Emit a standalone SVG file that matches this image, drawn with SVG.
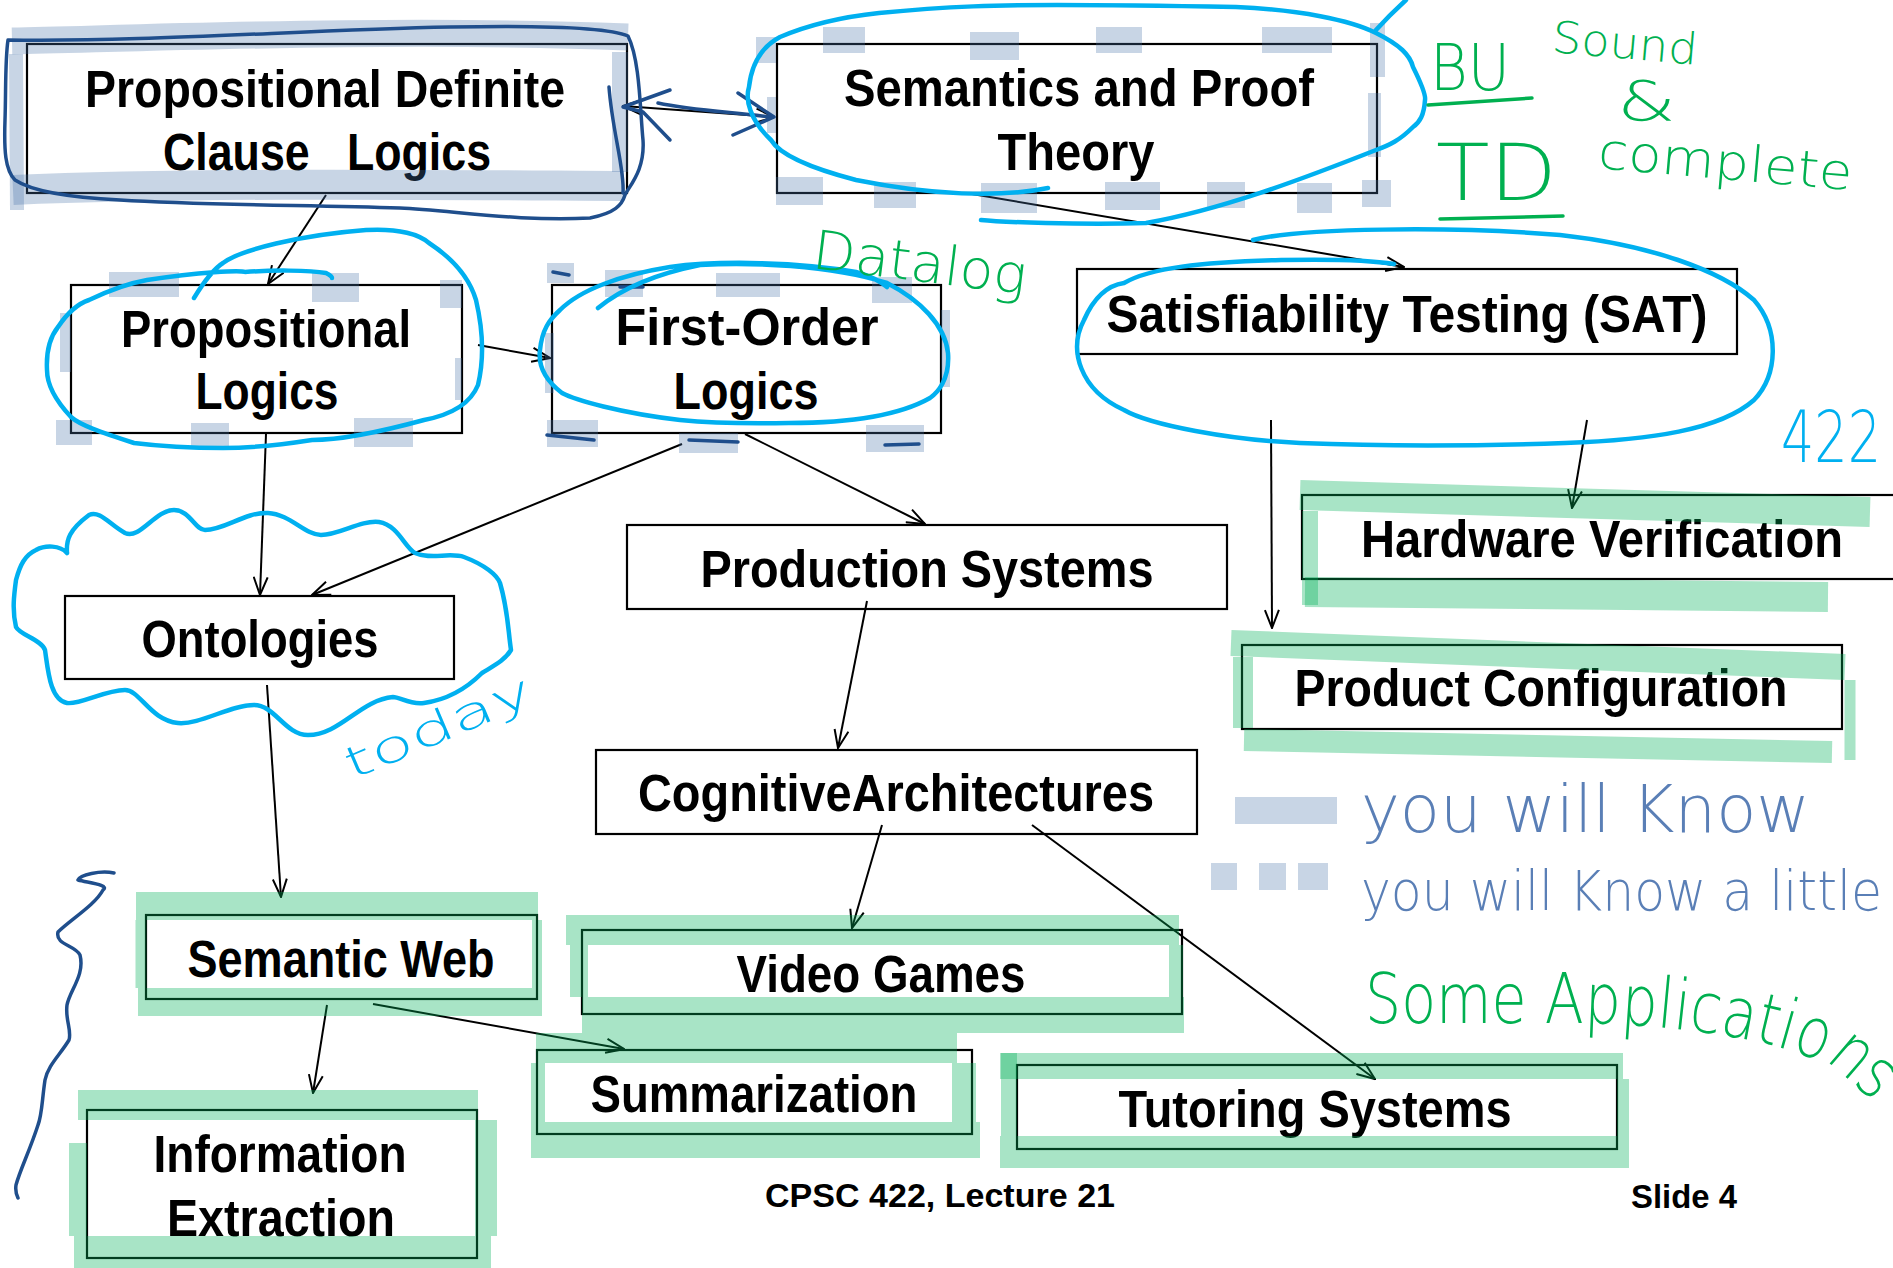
<svg xmlns="http://www.w3.org/2000/svg" width="1893" height="1268" viewBox="0 0 1893 1268">
<style>
.box{fill:none;stroke:#000;stroke-width:2.2}
.t{font-family:"Liberation Sans",Arial,sans-serif;font-weight:bold;font-size:51px;fill:#000;text-anchor:middle}
.ft{font-family:"Liberation Sans",Arial,sans-serif;font-weight:bold;font-size:33px;fill:#000;text-anchor:middle}
.c{fill:none;stroke:#000;stroke-width:2;marker-end:url(#ah)}
.g{fill:none;stroke:#03b15a;stroke-opacity:0.345}
.hb{fill:#4873a8;fill-opacity:0.3}
.hbs{fill:none;stroke:#4873a8;stroke-opacity:0.3}
.cy{fill:none;stroke:#00b0f0;stroke-width:4.5;stroke-linecap:round;stroke-linejoin:round}
.db{fill:none;stroke:#1f4e8c;stroke-width:3.5;stroke-linecap:round;stroke-linejoin:round}
.hw{font-family:"DejaVu Sans",sans-serif;font-weight:200}
.gr{fill:#00b050}
.cyt{fill:#00b0f0}
.bl{fill:#5a7fb6}
</style>
<defs>
<marker id="ah" viewBox="0 0 20 16" refX="19" refY="8" markerWidth="20" markerHeight="16" markerUnits="userSpaceOnUse" orient="auto-start-reverse">
<path d="M1,1 L19,8 L1,15" fill="none" stroke="#000" stroke-width="2"/>
</marker>
</defs>
<rect width="1893" height="1268" fill="#fff"/>

<g id="connectors">
<path class="c" d="M326,195 L268,284"/>
<path class="c" style="marker-start:url(#ah)" d="M623,106 L774,117"/>
<path class="c" d="M972,194 L1404,267"/>
<path class="c" d="M478,345 L550,358"/>
<path class="c" d="M266,434 L260,595"/>
<path class="c" d="M682,444 L312,595"/>
<path class="c" d="M745,434 L925,524"/>
<path class="c" d="M1271,420 L1272,628"/>
<path class="c" d="M1587,420 L1572,508"/>
<path class="c" d="M267,685 L281,897"/>
<path class="c" d="M867,601 L838,748"/>
<path class="c" d="M882,825 L852,928"/>
<path class="c" d="M1032,825 L1375,1079"/>
<path class="c" d="M327,1005 L313,1093"/>
<path class="c" d="M373,1004 L624,1049"/>
</g>

<g id="node-pdcl">
<rect class="box" x="27" y="44" width="600" height="149"/>
<text class="t" x="325" y="107" textLength="480" lengthAdjust="spacingAndGlyphs">Propositional Definite</text>
<text class="t" x="327" y="170" textLength="328" lengthAdjust="spacingAndGlyphs" xml:space="preserve">Clause   Logics</text>
<path class="hbs" stroke-width="27" d="M12,41 C150,38 400,28 628,37"/>
<path class="hbs" stroke-width="14" d="M16,54 L17,210"/>
<path class="hbs" stroke-width="30" d="M13,190 C200,182 450,185 624,186"/>
<path class="hbs" stroke-width="16" d="M620,52 L620,172"/>
</g>

<g id="node-semantics">
<rect class="box" x="777" y="44" width="600" height="149"/>
<text class="t" x="1079" y="106" textLength="470" lengthAdjust="spacingAndGlyphs">Semantics and Proof</text>
<text class="t" x="1076" y="170" textLength="157" lengthAdjust="spacingAndGlyphs">Theory</text>
<rect class="hb" x="756" y="37" width="20" height="26"/>
<rect class="hb" x="823" y="27" width="42" height="26"/>
<rect class="hb" x="970" y="32" width="49" height="28"/>
<rect class="hb" x="1096" y="27" width="46" height="26"/>
<rect class="hb" x="1262" y="27" width="70" height="26"/>
<rect class="hb" x="1370" y="23" width="15" height="54"/>
<rect class="hb" x="1368" y="93" width="13" height="64"/>
<rect class="hb" x="767" y="97" width="9" height="36"/>
<rect class="hb" x="776" y="177" width="47" height="28"/>
<rect class="hb" x="874" y="182" width="42" height="26"/>
<rect class="hb" x="981" y="183" width="56" height="30"/>
<rect class="hb" x="1105" y="182" width="55" height="28"/>
<rect class="hb" x="1207" y="182" width="38" height="26"/>
<rect class="hb" x="1297" y="183" width="35" height="30"/>
<rect class="hb" x="1362" y="180" width="29" height="27"/>
</g>

<g id="node-prop">
<rect class="box" x="71" y="285" width="391" height="148"/>
<text class="t" x="266" y="347" textLength="290" lengthAdjust="spacingAndGlyphs">Propositional</text>
<text class="t" x="267" y="409" textLength="143" lengthAdjust="spacingAndGlyphs">Logics</text>
<rect class="hb" x="109" y="272" width="70" height="25"/>
<rect class="hb" x="312" y="273" width="47" height="29"/>
<rect class="hb" x="440" y="280" width="22" height="28"/>
<rect class="hb" x="60" y="313" width="11" height="59"/>
<rect class="hb" x="455" y="358" width="7" height="42"/>
<rect class="hb" x="56" y="420" width="36" height="25"/>
<rect class="hb" x="191" y="423" width="38" height="24"/>
<rect class="hb" x="354" y="418" width="59" height="29"/>
</g>

<g id="node-fol">
<rect class="box" x="552" y="285" width="389" height="148"/>
<text class="t" x="747" y="345" textLength="263" lengthAdjust="spacingAndGlyphs">First-Order</text>
<text class="t" x="746" y="409" textLength="145" lengthAdjust="spacingAndGlyphs">Logics</text>
<rect class="hb" x="547" y="263" width="27" height="20"/>
<rect class="hb" x="605" y="270" width="38" height="27"/>
<rect class="hb" x="716" y="273" width="64" height="24"/>
<rect class="hb" x="872" y="277" width="40" height="26"/>
<rect class="hb" x="545" y="333" width="9" height="60"/>
<rect class="hb" x="941" y="310" width="9" height="77"/>
<rect class="hb" x="547" y="420" width="51" height="27"/>
<rect class="hb" x="679" y="433" width="59" height="20"/>
<rect class="hb" x="866" y="425" width="58" height="27"/>
<path class="db" stroke-width="2" d="M553,272 L569,275 M620,287 L643,287 M547,435 L594,440 M689,440 L738,442 M885,445 L919,444"/>
</g>

<g id="node-sat">
<rect class="box" x="1077" y="269" width="660" height="85"/>
<text class="t" x="1407" y="332" textLength="601" lengthAdjust="spacingAndGlyphs">Satisfiability Testing (SAT)</text>
</g>

<g id="node-ontologies">
<rect class="box" x="65" y="596" width="389" height="83"/>
<text class="t" x="260" y="657" textLength="237" lengthAdjust="spacingAndGlyphs">Ontologies</text>
</g>

<g id="node-production">
<rect class="box" x="627" y="525" width="600" height="84"/>
<text class="t" x="927" y="587" textLength="453" lengthAdjust="spacingAndGlyphs">Production Systems</text>
</g>

<g id="node-hardware">
<rect class="box" x="1302" y="495" width="600" height="84"/>
<text class="t" x="1602" y="557" textLength="482" lengthAdjust="spacingAndGlyphs">Hardware Verification</text>
<path class="g" stroke-width="30" d="M1300,495 L1870,512"/>
<path class="g" stroke-width="16" d="M1310,511 L1310,605"/>
<path class="g" stroke-width="30" d="M1305,592 L1828,597"/>
</g>

<g id="node-product">
<rect class="box" x="1242" y="645" width="600" height="84"/>
<text class="t" x="1541" y="706" textLength="493" lengthAdjust="spacingAndGlyphs">Product Configuration</text>
<path class="g" stroke-width="26" d="M1231,643 L1845,667"/>
<path class="g" stroke-width="20" d="M1243,657 L1243,728"/>
<path class="g" stroke-width="22" d="M1244,740 L1832,752"/>
<path class="g" stroke-width="11" d="M1850,680 L1850,760"/>
</g>

<g id="node-cognitive">
<rect class="box" x="596" y="750" width="601" height="84"/>
<text class="t" x="896" y="811" textLength="516" lengthAdjust="spacingAndGlyphs">CognitiveArchitectures</text>
</g>

<g id="node-semweb">
<rect class="box" x="146" y="915" width="391" height="84"/>
<text class="t" x="341" y="977" textLength="307" lengthAdjust="spacingAndGlyphs">Semantic Web</text>
<path class="g" stroke-width="28" d="M136,906 L538,906"/>
<path class="g" stroke-width="11" d="M141,920 L141,988"/>
<path class="g" stroke-width="28" d="M138,1002 L542,1002"/>
<path class="g" stroke-width="10" d="M537,920 L537,988"/>
</g>

<g id="node-videogames">
<rect class="box" x="582" y="930" width="600" height="84"/>
<text class="t" x="881" y="992" textLength="289" lengthAdjust="spacingAndGlyphs">Video Games</text>
<path class="g" stroke-width="30" d="M566,930 L1179,930"/>
<path class="g" stroke-width="18" d="M579,945 L579,997"/>
<path class="g" stroke-width="36" d="M582,1015 L1184,1015"/>
<path class="g" stroke-width="14" d="M1176,945 L1176,997"/>
</g>

<g id="node-summarization">
<rect class="box" x="537" y="1050" width="435" height="84"/>
<text class="t" x="754" y="1112" textLength="327" lengthAdjust="spacingAndGlyphs">Summarization</text>
<path class="g" stroke-width="30" d="M536,1048 L957,1048"/>
<path class="g" stroke-width="14" d="M538,1063 L538,1122"/>
<path class="g" stroke-width="36" d="M531,1140 L980,1140"/>
<path class="g" stroke-width="24" d="M964,1063 L964,1122"/>
</g>

<g id="node-tutoring">
<rect class="box" x="1017" y="1065" width="600" height="84"/>
<text class="t" x="1315" y="1127" textLength="393" lengthAdjust="spacingAndGlyphs">Tutoring Systems</text>
<path class="g" stroke-width="16" d="M1009,1053 L1009,1136"/>
<path class="g" stroke-width="26" d="M1000,1066 L1623,1066"/>
<path class="g" stroke-width="12" d="M1623,1079 L1623,1136"/>
<path class="g" stroke-width="32" d="M1000,1152 L1629,1152"/>
</g>

<g id="node-infoextraction">
<rect class="box" x="87" y="1110" width="390" height="148"/>
<text class="t" x="280" y="1172" textLength="253" lengthAdjust="spacingAndGlyphs">Information</text>
<text class="t" x="281" y="1236" textLength="228" lengthAdjust="spacingAndGlyphs">Extraction</text>
<path class="g" stroke-width="30" d="M78,1105 L478,1105"/>
<path class="g" stroke-width="18" d="M78,1143 L78,1236"/>
<path class="g" stroke-width="32" d="M74,1252 L491,1252"/>
<path class="g" stroke-width="22" d="M486,1120 L486,1236"/>
</g>

<g id="footer">
<text class="ft" x="940" y="1207" textLength="350" lengthAdjust="spacingAndGlyphs">CPSC 422, Lecture 21</text>
<text class="ft" x="1684" y="1208" textLength="106" lengthAdjust="spacingAndGlyphs">Slide 4</text>
</g>

<g id="annotations">
<path class="db" d="M8,40 C150,42 300,30 450,27 C550,25 610,28 628,36 C640,60 640,110 643,140 C645,170 630,185 625,195 C622,205 615,213 590,218 C520,222 450,210 400,208 C300,205 200,205 120,200 C60,197 30,190 15,180 C5,170 4,150 5,120 C6,90 5,60 8,40 Z"/>
<path class="db" d="M609,87 C612,130 625,170 623,193"/>
<path class="db" d="M670,90 L623,107 L643,112 L670,140"/>
<path class="db" d="M658,103 C690,110 730,112 770,117"/>
<path class="db" d="M738,93 L774,117 L733,135"/>
<path class="db" d="M114,873 C100,870 80,875 78,880 C90,883 110,885 103,890 C95,905 70,920 58,932 C55,945 75,945 80,955 C85,975 70,990 67,1005 C65,1020 72,1030 69,1040 C60,1055 48,1065 45,1080 C42,1100 42,1115 38,1125 C30,1150 20,1170 16,1185 C15,1192 17,1196 18,1198"/>

<path class="cy" d="M194,298 C205,280 215,268 223,263 C240,250 300,235 366,230 C400,228 420,235 429,243 C455,260 470,280 476,300 C483,330 484,360 478,385 C470,405 450,415 424,420 C380,432 340,440 312,440 C280,445 250,448 223,448 C180,448 150,445 134,443 C100,432 80,425 71,417 C55,400 47,385 47,370 C46,350 50,337 58,327 C68,312 80,303 89,300 C110,290 130,283 147,280 C200,272 240,270 245,272 C270,270 310,270 326,273 C330,275 332,277 332,278"/>
<path class="cy" d="M598,308 C620,290 650,275 700,265 C750,262 830,265 887,283 C920,300 945,325 948,353 C950,380 937,393 930,398 C900,415 850,423 789,423 C740,424 700,422 680,420 C620,413 575,400 562,393 C545,380 538,365 540,350 C542,330 549,320 560,310 C580,290 620,275 670,267 C720,260 800,262 856,272 C870,276 880,281 887,287"/>
<path class="cy" d="M1048,188 C1000,198 930,195 856,180 C810,168 780,155 771,140 C750,120 745,100 749,87 C752,60 765,45 780,37 C820,20 860,15 879,13 C950,6 1000,5 1057,5 C1120,5 1180,6 1236,7 C1300,10 1350,20 1376,33 C1400,45 1410,55 1413,67 C1422,85 1426,95 1425,100 C1424,115 1420,122 1413,127 C1400,140 1390,145 1376,150 C1300,180 1220,210 1146,223 C1080,225 1000,222 981,220"/>
<path class="cy" stroke-width="2.5" d="M1376,30 C1385,20 1395,10 1406,0"/>
<path class="cy" d="M1253,240 C1300,228 1450,226 1560,235 C1650,245 1720,270 1754,300 C1780,330 1778,375 1754,400 C1720,430 1650,440 1565,443 C1450,447 1350,445 1300,443 C1230,440 1150,425 1124,410 C1080,390 1068,350 1084,320 C1095,295 1110,285 1124,283 C1150,268 1200,262 1281,260 C1330,259 1370,260 1394,264"/>
<path class="cy" d="M67,553 C66,540 69,530 89,515 C100,510 110,525 125,533 C140,540 155,510 174,510 C190,510 195,530 205,530 C225,530 245,512 268,513 C290,514 305,535 321,535 C340,535 360,520 379,522 C398,525 405,548 415,553 C430,560 450,552 464,557 C485,565 497,575 500,583 C508,610 508,630 511,650 C505,660 495,665 482,673 C465,690 445,700 424,703 C410,705 400,697 393,697 C360,700 340,735 308,735 C285,735 275,705 254,705 C230,705 200,725 178,723 C150,720 140,690 125,690 C105,690 80,705 67,703 C50,700 48,670 45,650 C42,640 20,635 16,627 C12,610 14,595 16,580 C20,565 25,555 36,550 C45,545 60,545 67,553"/>

<text class="hw gr" x="811" y="268" font-size="54" textLength="215" lengthAdjust="spacingAndGlyphs" transform="rotate(7 811 268)">Datalog</text>
<text class="hw gr" x="1430" y="90" font-size="64" textLength="80" lengthAdjust="spacingAndGlyphs">BU</text>
<path d="M1428,105 L1532,98" fill="none" stroke="#00b050" stroke-width="3.5" stroke-linecap="round"/>
<text class="hw gr" x="1551" y="52" font-size="44" textLength="146" lengthAdjust="spacingAndGlyphs" transform="rotate(5 1551 52)">Sound</text>
<text class="hw gr" x="1617" y="120" font-size="56" textLength="59" lengthAdjust="spacingAndGlyphs">&amp;</text>
<text class="hw gr" x="1436" y="200" font-size="78" textLength="121" lengthAdjust="spacingAndGlyphs">TD</text>
<path d="M1440,219 L1563,216" fill="none" stroke="#00b050" stroke-width="3.5" stroke-linecap="round"/>
<text class="hw gr" x="1597" y="168" font-size="50" textLength="255" lengthAdjust="spacingAndGlyphs" transform="rotate(5 1597 168)">complete</text>
<text class="hw cyt" x="1781" y="462" font-size="72" textLength="100" lengthAdjust="spacingAndGlyphs">422</text>
<text class="hw cyt" x="352" y="780" font-size="44" textLength="200" lengthAdjust="spacingAndGlyphs" transform="rotate(-23 352 780)">today</text>

<rect class="hb" x="1235" y="797" width="102" height="27"/>
<text class="hw bl" x="1361" y="832" font-size="66" textLength="449" lengthAdjust="spacingAndGlyphs">you will Know</text>
<rect class="hb" x="1211" y="863" width="26" height="27"/>
<rect class="hb" x="1259" y="863" width="27" height="27"/>
<rect class="hb" x="1298" y="863" width="30" height="27"/>
<text class="hw bl" x="1361" y="910" font-size="56" textLength="521" lengthAdjust="spacingAndGlyphs">you will Know a little</text>

<path id="appPath" d="M1365,1023 L1585,1023 C1690,1026 1780,1040 1835,1068 L1890,1115" fill="none"/>
<text class="hw gr" font-size="70"><textPath href="#appPath" textLength="528" lengthAdjust="spacingAndGlyphs">Some Applications</textPath></text>
</g>
</svg>
